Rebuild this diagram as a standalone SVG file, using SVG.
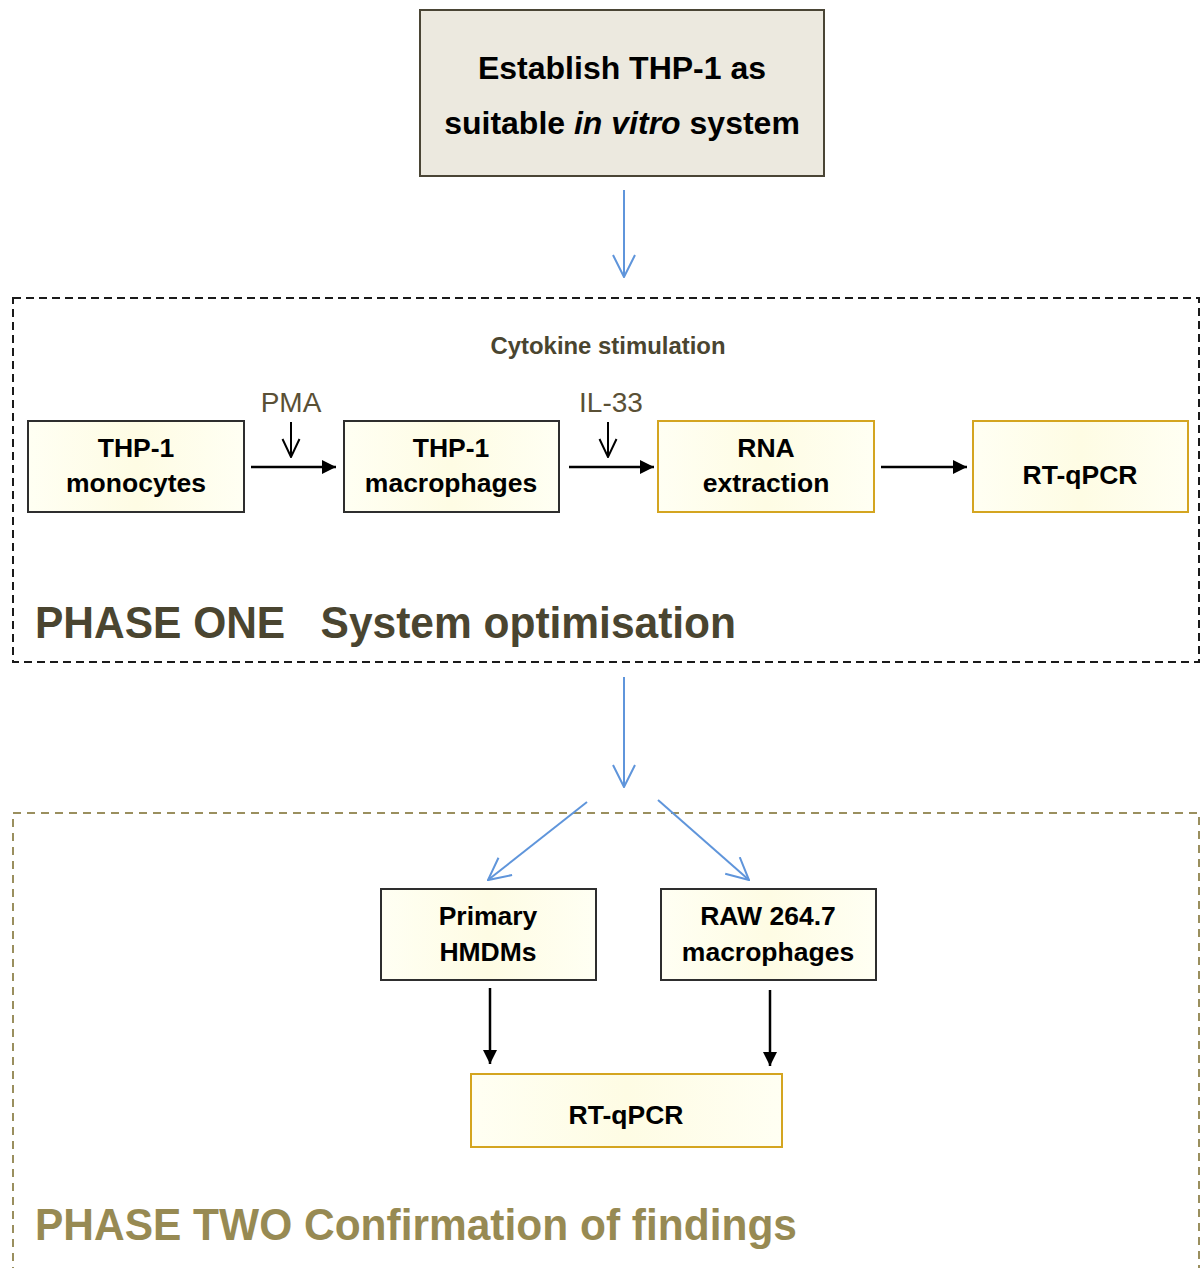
<svg xmlns="http://www.w3.org/2000/svg" width="1202" height="1268" viewBox="0 0 1202 1268">
<defs>
<linearGradient id="bg" x1="0" y1="0" x2="1" y2="0">
<stop offset="0" stop-color="#FFFFF3"/>
<stop offset="0.5" stop-color="#FEFCE4"/>
<stop offset="1" stop-color="#FFFFF3"/>
</linearGradient>
<marker id="fa" viewBox="0 0 10 10" refX="10" refY="5" markerWidth="14" markerHeight="14" markerUnits="userSpaceOnUse" orient="auto">
<path d="M0,0 L10,5 L0,10 z" fill="#000"/>
</marker>
<marker id="ba" viewBox="0 0 24 24" refX="23" refY="12" markerWidth="24" markerHeight="24" markerUnits="userSpaceOnUse" orient="auto">
<path d="M1,1 L23,12 L1,23" fill="none" stroke="#5F95DB" stroke-width="2"/>
</marker>
<marker id="sa" viewBox="0 0 20 20" refX="19" refY="10" markerWidth="20" markerHeight="20" markerUnits="userSpaceOnUse" orient="auto">
<path d="M1,1.5 L19,10 L1,18.5" fill="none" stroke="#000" stroke-width="2"/>
</marker>
</defs>
<style>
text{font-family:"Liberation Sans",Arial,sans-serif;}
.nb{font-weight:bold;font-size:26.5px;text-anchor:middle;fill:#000;}
.dark{fill:url(#bg);stroke:#2e2e2e;stroke-width:2;}
.gold{fill:url(#bg);stroke:#D4A520;stroke-width:2;}
.blue{stroke:#5F95DB;stroke-width:2;fill:none;marker-end:url(#ba);}
.blk{stroke:#000;stroke-width:2.5;fill:none;marker-end:url(#fa);}
.thin{stroke:#000;stroke-width:2;fill:none;marker-end:url(#sa);}
.lbl{font-size:28px;fill:#5a5035;text-anchor:middle;}
</style>
<rect x="0" y="0" width="1202" height="1268" fill="#fff"/>

<g id="phase1">
<rect x="13" y="298" width="1186" height="364" fill="none" stroke="#1a1a1a" stroke-width="2" stroke-dasharray="8,5"/>
<text x="608" y="354" font-size="23" font-weight="bold" fill="#4a4530" text-anchor="middle" textLength="235" lengthAdjust="spacingAndGlyphs">Cytokine stimulation</text>
<text x="35" y="638" font-size="44" font-weight="bold" fill="#4a4530" textLength="701" lengthAdjust="spacingAndGlyphs" xml:space="preserve">PHASE ONE   System optimisation</text>
</g>

<g id="phase2">
<rect x="13" y="813" width="1186" height="480" fill="none" stroke="#9A8F5E" stroke-width="2" stroke-dasharray="8,6"/>
<text x="35" y="1240" font-size="44" font-weight="bold" fill="#978A53" textLength="762" lengthAdjust="spacingAndGlyphs">PHASE TWO Confirmation of findings</text>
</g>

<g id="establish">
<rect x="420" y="10" width="404" height="166" fill="#ECE9DF" stroke="#4a4535" stroke-width="2"/>
<text x="622" y="79" font-size="32" font-weight="bold" text-anchor="middle">Establish THP-1 as</text>
<text x="622" y="134" font-size="32" font-weight="bold" text-anchor="middle">suitable <tspan font-style="italic">in vitro</tspan> system</text>
</g>

<g id="thp1-monocytes">
<rect class="dark" x="28" y="421" width="216" height="91"/>
<text class="nb" x="136" y="457">THP-1</text>
<text class="nb" x="136" y="492">monocytes</text>
</g>
<g id="thp1-macrophages">
<rect class="dark" x="344" y="421" width="215" height="91"/>
<text class="nb" x="451" y="457">THP-1</text>
<text class="nb" x="451" y="492">macrophages</text>
</g>
<g id="rna-extraction">
<rect class="gold" x="658" y="421" width="216" height="91"/>
<text class="nb" x="766" y="457">RNA</text>
<text class="nb" x="766" y="492">extraction</text>
</g>
<g id="rtqpcr1">
<rect class="gold" x="973" y="421" width="215" height="91"/>
<text class="nb" x="1080" y="484">RT-qPCR</text>
</g>
<g id="pma">
<text class="lbl" x="291" y="412">PMA</text>
</g>
<g id="il33">
<text class="lbl" x="611" y="412">IL-33</text>
</g>

<g id="primary-hmdms">
<rect class="dark" x="381" y="889" width="215" height="91"/>
<text class="nb" x="488" y="925">Primary</text>
<text class="nb" x="488" y="961">HMDMs</text>
</g>
<g id="raw264">
<rect class="dark" x="661" y="889" width="215" height="91"/>
<text class="nb" x="768" y="925">RAW 264.7</text>
<text class="nb" x="768" y="961">macrophages</text>
</g>
<g id="rtqpcr2">
<rect class="gold" x="471" y="1074" width="311" height="73"/>
<text class="nb" x="626" y="1124">RT-qPCR</text>
</g>

<g id="connectors">
<line class="blue" x1="624" y1="190" x2="624" y2="277"/>
<line class="blue" x1="624" y1="677" x2="624" y2="787"/>
<line class="blue" x1="587" y1="802" x2="488" y2="880"/>
<line class="blue" x1="658" y1="800" x2="749" y2="880"/>
<line class="blk" x1="251" y1="467" x2="336" y2="467"/>
<line class="blk" x1="569" y1="467" x2="654" y2="467"/>
<line class="blk" x1="881" y1="467" x2="967" y2="467"/>
<line class="thin" x1="291" y1="422" x2="291" y2="457"/>
<line class="thin" x1="608" y1="422" x2="608" y2="457"/>
<line class="blk" x1="490" y1="988" x2="490" y2="1064"/>
<line class="blk" x1="770" y1="990" x2="770" y2="1066"/>
</g>
</svg>
